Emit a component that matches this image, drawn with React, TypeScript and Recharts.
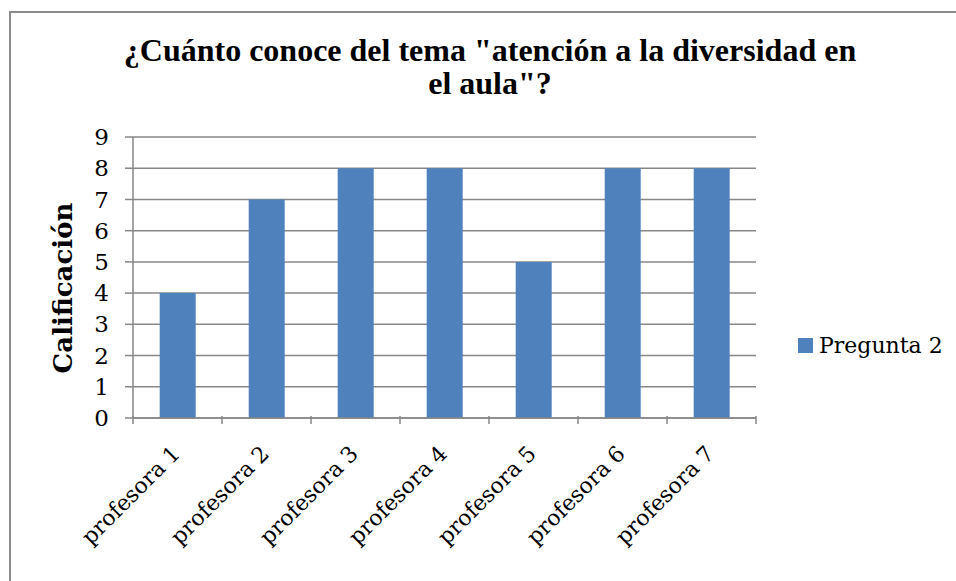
import { BarChart, Bar, XAxis, YAxis, CartesianGrid } from 'recharts';

const categories = ['profesora 1', 'profesora 2', 'profesora 3', 'profesora 4', 'profesora 5', 'profesora 6', 'profesora 7'];
const pregunta2 = [4, 7, 8, 8, 5, 8, 8];
const yTicks = [0, 1, 2, 3, 4, 5, 6, 7, 8, 9];

const seriesName = 'Pregunta 2';
const titleLines = ['¿Cuánto conoce del tema "atención a la diversidad en', 'el aula"?'];
const yLabel = 'Calificación';

const data = categories.map((c, i) => ({ name: c, value: pregunta2[i] }));

const axisFont = '"DejaVu Serif", "Liberation Serif", serif';
const gridColor = '#878787';
const barColor = '#4F81BD';

// plot is 623px wide, 7 bands
const bandWidth = 623 / categories.length;

function XTick(props: any) {
  const { x, y, payload, index } = props;
  const half = payload && payload.offset ? payload.offset : bandWidth / 2;
  const top = y - 10;
  const tx = x + 4;
  const ty = y + 29;
  return (
    <g>
      <line x1={x - half} y1={top} x2={x - half} y2={top + 8} stroke={gridColor} strokeWidth={1.5} />
      {index === categories.length - 1 && (
        <line x1={x + half} y1={top} x2={x + half} y2={top + 8} stroke={gridColor} strokeWidth={1.5} />
      )}
      <text
        x={tx}
        y={ty}
        textAnchor="end"
        fontFamily={axisFont}
        fontSize={22}
        fill="#000"
        transform={`rotate(-45, ${tx}, ${ty})`}
      >
        {payload.value}
      </text>
    </g>
  );
}

export default function App() {
  return (
    <div style={{ position: 'absolute', left: 0, top: 0, width: 956, height: 581, overflow: 'hidden', background: '#fff' }}>
      <div
        style={{
          position: 'absolute',
          left: 9,
          top: 11,
          width: 1000,
          height: 700,
          borderTop: '2px solid #8c8c8c',
          borderLeft: '2px solid #8c8c8c',
        }}
      />
      <div
        style={{
          position: 'absolute',
          left: 90,
          width: 800,
          top: 34,
          textAlign: 'center',
          fontFamily: '"Liberation Serif", "Times New Roman", serif',
          fontWeight: 'bold',
          fontSize: 32,
          lineHeight: '33px',
          color: '#000',
        }}
      >
        {titleLines.map((l) => (
          <div key={l}>{l}</div>
        ))}
      </div>
      <div
        style={{
          position: 'absolute',
          left: 63,
          top: 288,
          transform: 'translate(-50%, -50%) rotate(-90deg)',
          fontFamily: axisFont,
          fontWeight: 'bold',
          fontSize: 26,
          whiteSpace: 'nowrap',
          color: '#000',
        }}
      >
        {yLabel}
      </div>
      <div
        style={{
          position: 'absolute',
          left: 798,
          top: 333,
          display: 'flex',
          alignItems: 'center',
          fontFamily: axisFont,
          fontSize: 22,
          color: '#000',
          whiteSpace: 'nowrap',
        }}
      >
        <div style={{ width: 15, height: 15, background: barColor, marginRight: 6 }} />
        <span>{seriesName}</span>
      </div>
      <div style={{ position: 'absolute', left: 0, top: 0 }}>
        <BarChart width={956} height={581} data={data} margin={{ top: 137, right: 200, bottom: 33, left: 73 }} barCategoryGap="30%">
          <CartesianGrid horizontal vertical={false} stroke={gridColor} strokeWidth={1.5} />
          <XAxis
            dataKey="name"
            interval={0}
            height={130}
            axisLine={{ stroke: gridColor, strokeWidth: 1.5 }}
            tickLine={false}
            tick={<XTick />}
          />
          <YAxis
            width={60}
            domain={[0, 9]}
            ticks={yTicks}
            interval={0}
            axisLine={{ stroke: gridColor, strokeWidth: 1.5 }}
            tickLine={{ stroke: gridColor, strokeWidth: 1.5 }}
            tickSize={8}
            tickMargin={16}
            tick={{ fill: '#000', fontFamily: axisFont, fontSize: 23 }}
          />
          <Bar dataKey="value" name={seriesName} fill={barColor} isAnimationActive={false} />
        </BarChart>
      </div>
    </div>
  );
}
